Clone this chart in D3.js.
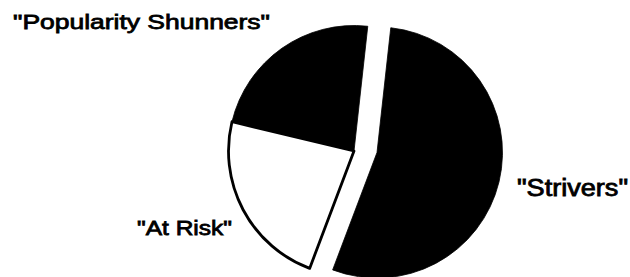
<!DOCTYPE html>
<html><head><meta charset="utf-8">
<script src="https://cdn.jsdelivr.net/npm/d3@7"></script>
<style>body{margin:0;background:#fff}svg{display:block}</style>
</head><body>
<svg id="c" width="630" height="277"></svg>
<script>
const categories = ["Strivers", "At Risk", "Popularity Shunners"];
const values = [54, 23, 23];
const labels = ['"Strivers"', '"At Risk"', '"Popularity Shunners"'];
const fills = ["#000", "#fff", "#000"];

const svg = d3.select("#c");
const cx = 354, cy = 151, R = 125.5;
const startDeg = 6.3;
const explode = [23, 1.5];

const pie = d3.pie().sort(null).value(d => d)
  .startAngle(startDeg * Math.PI / 180)
  .endAngle((startDeg + 360) * Math.PI / 180);
const arcs = pie(values);
const arc = d3.arc().innerRadius(0).outerRadius(R);

const g = svg.append("g").attr("transform", `translate(${cx},${cy})`);
g.selectAll("path").data(arcs).join("path")
  .attr("d", arc)
  .attr("transform", (d, i) => i === 0 ? `translate(${explode[0]},${explode[1]})` : null)
  .attr("fill", (d, i) => fills[i])
  .attr("stroke", "#000")
  .attr("stroke-width", (d, i) => i === 1 ? 2.8 : 0.8)
  .attr("stroke-linejoin", "round");

// labels
const labelPos = [
  {x: 517, y: 196, w: 111},
  {x: 137, y: 235, w: 95},
  {x: 13, y: 29, w: 257}
];
svg.selectAll("text.lbl").data(labels).join("text")
  .attr("class", "lbl")
  .attr("x", (d, i) => labelPos[i].x)
  .attr("y", (d, i) => labelPos[i].y)
  .attr("textLength", (d, i) => labelPos[i].w)
  .attr("lengthAdjust", "spacingAndGlyphs")
  .attr("font-family", "Liberation Sans, Arial, sans-serif")
  .attr("font-size", (d, i) => i === 0 ? 23 : 21)
  .attr("fill", "#000")
  .attr("stroke", "#000")
  .attr("stroke-width", 0.8)
  .text(d => d);
</script>
</body></html>
